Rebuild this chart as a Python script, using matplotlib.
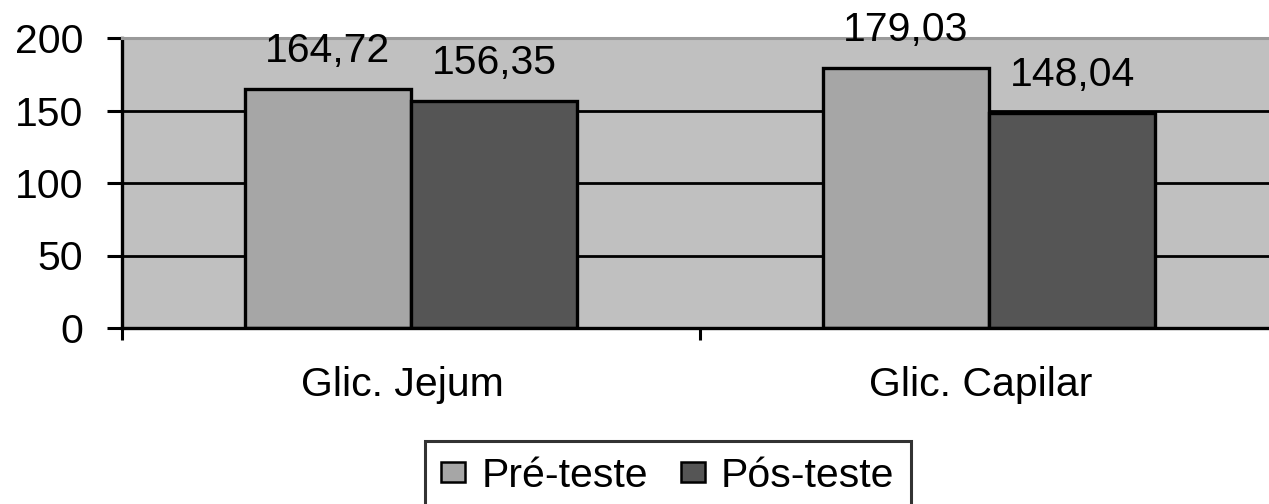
import numpy as np
import matplotlib.pyplot as plt

plt.rcParams['font.family'] = ['Liberation Sans', 'DejaVu Sans']

# glicemia, pre vs pos
categorias = ["Glic. Jejum", "Glic. Capilar"]
pre_teste = [164.72, 179.03]
pos_teste = [156.35, 148.04]
rotulos_pre = ["164,72", "179,03"]
rotulos_pos = ["156,35", "148,04"]

fig = plt.figure(figsize=(12.69, 5.04), dpi=100)
ax = fig.add_axes([122 / 1269, 176 / 504, 1156 / 1269, 290 / 504])
ax.set_facecolor("#c0c0c0")

x = np.arange(len(categorias)) + 0.5
w = 0.2875
b1 = ax.bar(x - w, pre_teste, w, align="edge", color="#a6a6a6",
            edgecolor="black", linewidth=2.4, label="Pré-teste", zorder=2)
b2 = ax.bar(x, pos_teste, w, align="edge", color="#555555",
            edgecolor="black", linewidth=2.4, label="Pós-teste", zorder=2)

for bars, labels in [(b1, rotulos_pre), (b2, rotulos_pos)]:
    for r, lab in zip(bars, labels):
        ax.annotate(lab, (r.get_x() + r.get_width() / 2, r.get_height()),
                    xytext=(0, 19.5), textcoords="offset points",
                    ha="center", va="baseline", fontsize=29.5, zorder=5,
                    annotation_clip=False)

ax.set_xlim(0, 2)
ax.set_ylim(0, 200)
ax.set_yticks([0, 50, 100, 150, 200])
ax.tick_params(axis="y", length=11, width=2.2, pad=17, labelsize=29.5)

ax.set_xticks([0, 1, 2])
ax.set_xticklabels([])
ax.set_xticks(x - 0.015, minor=True)
ax.set_xticklabels(categorias, minor=True)
ax.tick_params(axis="x", which="major", length=8.5, width=2.2)
ax.tick_params(axis="x", which="minor", length=0, pad=27, labelsize=29.5)

ax.set_axisbelow(True)
ax.yaxis.grid(True, color="black", linewidth=2)

for s in ["left", "bottom"]:
    ax.spines[s].set_linewidth(2.4)
ax.spines["top"].set_color("#9a9a9a")
ax.spines["top"].set_linewidth(2.2)
ax.spines["right"].set_visible(False)

leg = fig.legend(loc="center left", bbox_to_anchor=(425 / 1269, 1 - 476 / 504),
                 ncol=2, fontsize=29.5, frameon=True, fancybox=False,
                 handlelength=0.58, handleheight=0.38, handletextpad=0.4,
                 columnspacing=0.8, borderpad=0.4, borderaxespad=0)
leg.get_frame().set_edgecolor("black")
leg.get_frame().set_linewidth(2.2)
for h in leg.legend_handles:
    h.set_linewidth(1.8)

fig.savefig("out.png", dpi=100)
